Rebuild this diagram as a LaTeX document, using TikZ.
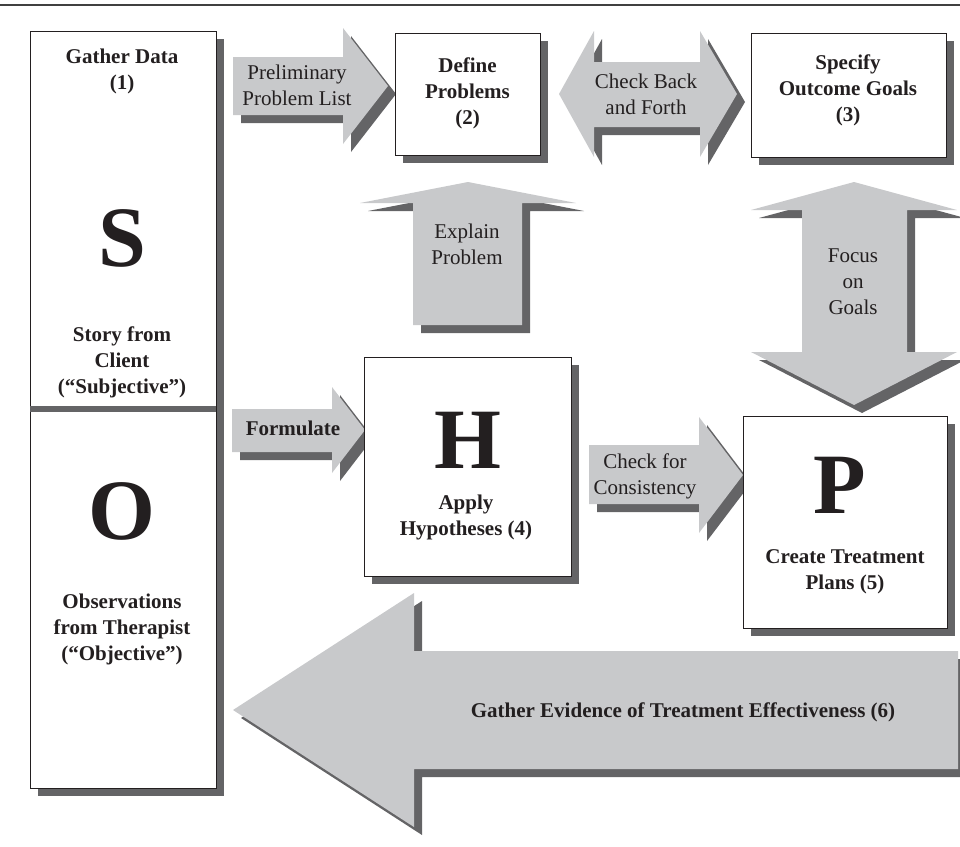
\documentclass[tikz,border=0pt]{standalone}
\usepackage{fontspec}
\setmainfont{Liberation Serif}
\usetikzlibrary{shadows}
\definecolor{lightc}{HTML}{C8C9CB}
\definecolor{darkc}{HTML}{646466}
\definecolor{inkc}{HTML}{231F20}
\begin{document}
\begin{tikzpicture}[x=1pt,y=-1pt,
  lbl/.style={font=\fontsize{21}{26}\selectfont, text=inkc, align=center, inner sep=0pt},
  blbl/.style={font=\fontsize{21}{26}\selectfont\bfseries, text=inkc, align=center, inner sep=0pt},
  big/.style={font=\fontsize{86}{86}\selectfont\bfseries, text=inkc, inner sep=0pt},
  box/.style={draw=inkc, line width=1pt, fill=white, rectangle, inner sep=0pt,
    drop shadow={shadow xshift=8pt, shadow yshift=-8pt, fill=darkc, opacity=1}},
  topline/.style={draw=black!75, line width=2pt},
  divider/.style={fill=darkc}
]
\useasboundingbox (0,0) rectangle (960,846);
\draw[topline] (0,5) -- (960,5);

% block arrows: shadow layer then light layer
\foreach \d/\c in {8/darkc,0/lightc}{
  % Preliminary Problem List
  \fill[\c, shift={(\d,\d)}] (233,57) -- (343,57) -- (343,28) -- (388,86) -- (343,144) -- (343,115) -- (233,115) -- cycle;
  % Check Back and Forth
  \fill[\c, shift={(\d,\d)}] (559,94) -- (594,31) -- (594,62) -- (700,62) -- (700,31) -- (737,94) -- (700,157) -- (700,127) -- (594,127) -- (594,157) -- cycle;
  % Explain Problem
  \fill[\c, shift={(\d,\d)}] (468,182) -- (576,203) -- (522,203) -- (522,325) -- (413,325) -- (413,203) -- (360,203) -- cycle;
  % Focus on Goals
  \fill[\c, shift={(\d,\d)}] (854,182) -- (957,210) -- (907,210) -- (907,352) -- (957,352) -- (854,405) -- (751,352) -- (802,352) -- (802,210) -- (751,210) -- cycle;
  % Formulate
  \fill[\c, shift={(\d,\d)}] (232,409) -- (332,409) -- (332,387) -- (365,430) -- (332,473) -- (332,452) -- (232,452) -- cycle;
  % Check for Consistency
  \fill[\c, shift={(\d,\d)}] (589,445) -- (699,445) -- (699,417) -- (743,475) -- (699,533) -- (699,504) -- (589,504) -- cycle;
  % Gather Evidence
  \fill[\c, shift={(\d,\d)}] (233,710) -- (414,593) -- (414,651) -- (958,651) -- (958,769) -- (414,769) -- (414,827) -- cycle;
}

% boxes
\node[box, minimum width=186pt, minimum height=757pt] (so) at (123,409.5) {};
\fill[divider] (30,406) rectangle (216,412);
\node[box, minimum width=145pt, minimum height=122pt] (define) at (467.5,94) {};
\node[box, minimum width=195pt, minimum height=124pt] (specify) at (848.5,95) {};
\node[box, minimum width=207pt, minimum height=219pt] (hbox) at (467.5,466.5) {};
\node[box, minimum width=204pt, minimum height=212pt] (pbox) at (845,522) {};

% texts
\node[blbl] (gd) at (122,71.5) {Gather Data\\(1)};
\node[big] (S) at (122,238) {S};
\node[blbl] (story) at (122,362) {Story from\\Client\\(“Subjective”)};
\node[big] (O) at (122,511) {O};
\node[blbl] (obs) at (122,629) {Observations\\from Therapist\\(“Objective”)};
\node[lbl] (prel) at (297,85) {Preliminary\\Problem List};
\node[blbl] (deft) at (467.5,93.5) {Define\\Problems\\(2)};
\node[lbl] (cbf) at (646,94.5) {Check Back\\and Forth};
\node[blbl] (spect) at (848,90.5) {Specify\\Outcome Goals\\(3)};
\node[lbl] (expl) at (467,244.5) {Explain\\Problem};
\node[lbl] (focus) at (853,281.5) {Focus\\on\\Goals};
\node[blbl] (form) at (293,428) {Formulate};
\node[big] (H) at (468,440) {H};
\node[blbl] (apply) at (466,517) {Apply\\Hypotheses (4)};
\node[lbl] (cfc) at (645,476.5) {Check for\\Consistency};
\node[big] (P) at (840,485) {P};
\node[blbl] (ctp) at (845,572) {Create Treatment\\Plans (5)};
\node[blbl] (ge) at (683,712) {Gather Evidence of Treatment Effectiveness (6)};
\end{tikzpicture}
\end{document}
